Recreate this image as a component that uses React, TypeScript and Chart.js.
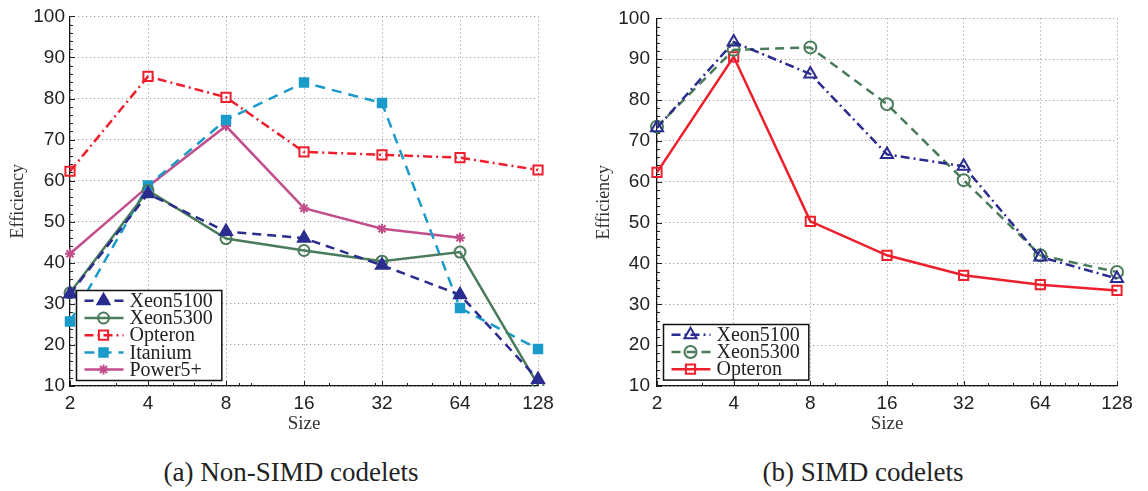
import React, { useEffect, useRef } from 'react';
import { Chart, registerables } from 'chart.js';
import { drawPoint } from 'chart.js/helpers';

Chart.register(...registerables);

// ---------- data ----------
const sizes = ['2', '4', '8', '16', '32', '64', '128'];
const sizeValues = [2, 4, 8, 16, 32, 64, 128];
const yMin = 10;
const yMax = 100;
const yStep = 10;

// (a) Non-SIMD codelets
const nsXeon5100 = [32.4, 56.8, 47.6, 46.0, 39.4, 32.2, 11.6];
const nsXeon5300 = [32.7, 57.6, 45.9, 43.0, 40.4, 42.6, 10.3];
const nsOpteron = [62.3, 85.4, 80.3, 67.0, 66.3, 65.6, 62.6];
const nsItanium = [25.7, 58.8, 74.8, 83.9, 78.9, 29.0, 19.0];
const nsPower5 = [42.2, 58.6, 73.3, 53.3, 48.3, 46.1, null];

// (b) SIMD codelets
const sXeon5100 = [73.2, 94.2, 86.4, 66.7, 63.8, 41.6, 36.3];
const sXeon5300 = [73.5, 92.3, 92.9, 79.0, 60.4, 42.0, 37.9];
const sOpteron = [62.3, 90.6, 50.3, 42.0, 37.1, 34.8, 33.4];

const captionA = '(a) Non-SIMD codelets';
const captionB = '(b) SIMD codelets';

// ---------- styles ----------
const NAVY = '#2b2c8f';
const GREEN = '#4a7b5a';
const RED = '#ee1f2d';
const CYAN = '#1b9bc9';
const MAGENTA = '#c24f8c';
const SANS = '"Liberation Sans", Arial, sans-serif';
const SERIF = '"Liberation Serif", "Times New Roman", serif';

// ---------- plugins ----------
const minorTicksPlugin = {
  id: 'minorTicks',
  beforeDatasetsDraw(chart: any) {
    const { ctx, chartArea: ca, scales } = chart;
    const x = scales.x;
    const y = scales.y;
    ctx.save();
    ctx.strokeStyle = '#222';
    ctx.lineWidth = 1;
    ctx.setLineDash([]);
    ctx.beginPath();
    for (let v = yMin; v <= yMax; v += 2) {
      const py = Math.round(y.getPixelForValue(v)) + 0.5;
      const len = v % yStep === 0 ? 5 : 3;
      ctx.moveTo(ca.left, py);
      ctx.lineTo(ca.left + len, py);
    }
    const p0 = x.getPixelForValue(0);
    const p1 = x.getPixelForValue(1);
    const per = p1 - p0;
    const minorVals = [3, 5, 6, 7, 9, 10, 20, 30, 40, 50, 60, 70, 80, 90, 100];
    minorVals.forEach((v) => {
      const px = Math.round(p0 + (Math.log2(v) - 1) * per) + 0.5;
      ctx.moveTo(px, ca.bottom);
      ctx.lineTo(px, ca.bottom - 3);
    });
    sizeValues.forEach((_, i) => {
      const px = Math.round(x.getPixelForValue(i)) + 0.5;
      ctx.moveTo(px, ca.bottom);
      ctx.lineTo(px, ca.bottom - 5);
    });
    ctx.stroke();
    ctx.restore();
  },
};

const boxLegendPlugin = {
  id: 'boxLegend',
  afterDraw(chart: any) {
    const { ctx, chartArea: ca } = chart;
    const ds = chart.data.datasets;
    ctx.save();
    ctx.font = `20px ${SERIF}`;
    const maxW = Math.max(...ds.map((d: any) => ctx.measureText(d.label).width));
    const rowH = 17.2;
    const boxW = 53 + maxW + 9;
    const boxH = ds.length * rowH + 4;
    const bx = Math.round(ca.left + 6) + 0.5;
    const by = Math.round(ca.bottom - 6 - boxH) + 0.5;
    ctx.fillStyle = '#fff';
    ctx.fillRect(bx, by, boxW, boxH);
    ctx.strokeStyle = '#111';
    ctx.lineWidth = 1.5;
    ctx.strokeRect(bx, by, boxW, boxH);
    ds.forEach((d: any, i: number) => {
      const cy = by + 10.3 + i * rowH;
      ctx.setLineDash(d.borderDash || []);
      ctx.strokeStyle = d.borderColor;
      ctx.lineWidth = d.borderWidth;
      ctx.beginPath();
      ctx.moveTo(bx + 8, cy);
      ctx.lineTo(bx + 47, cy);
      ctx.stroke();
      ctx.setLineDash([]);
      ctx.fillStyle = d.pointBackgroundColor;
      ctx.strokeStyle = d.pointBorderColor;
      ctx.lineWidth = d.pointBorderWidth;
      drawPoint(ctx, { pointStyle: d.pointStyle, radius: d.pointRadius, borderWidth: d.pointBorderWidth, rotation: 0 } as any, bx + 27, cy);
      ctx.fillStyle = '#222';
      ctx.textAlign = 'left';
      ctx.textBaseline = 'middle';
      ctx.fillText(d.label, bx + 53, cy + 1);
    });
    ctx.restore();
  },
};

function series(label: string, data: (number | null)[], color: string, dash: number[], style: string, radius: number, filled: boolean) {
  return {
    label,
    data,
    borderColor: color,
    backgroundColor: color,
    borderWidth: 2.5,
    borderDash: dash,
    pointStyle: style,
    pointRadius: radius,
    pointBorderWidth: 2,
    pointBorderColor: color,
    pointBackgroundColor: filled ? color : 'rgba(255,255,255,0)',
    tension: 0,
    fill: false,
  };
}

function makeConfig(datasets: any[], yWidth: number, rightPad: number, titlePad: number, tickPad: number) {
  return {
    type: 'line',
    data: { labels: sizes, datasets },
    plugins: [minorTicksPlugin, boxLegendPlugin],
    options: {
      animation: false,
      responsive: false,
      events: [],
      layout: { padding: { left: 0, right: rightPad, top: 14, bottom: 6 } },
      plugins: { legend: { display: false }, tooltip: { enabled: false } },
      scales: {
        x: {
          type: 'category',
          offset: false,
          grid: { color: '#8a8a8a', lineWidth: 1, drawTicks: false },
          border: { display: true, color: '#111', width: 1.2, dash: [1, 3] },
          ticks: { font: { family: SANS, size: 19 }, color: '#222', padding: 6, maxRotation: 0, autoSkip: false },
          title: { display: true, text: 'Size', font: { family: SERIF, size: 19 }, color: '#333', padding: { top: 0, bottom: 0 } },
          afterFit: (s: any) => { s.height = 49; },
        },
        y: {
          type: 'linear',
          min: yMin,
          max: yMax,
          grid: { color: '#8a8a8a', lineWidth: 1, drawTicks: false },
          border: { display: true, color: '#111', width: 1.2, dash: [1, 3] },
          ticks: { stepSize: yStep, font: { family: SANS, size: 19 }, color: '#222', padding: tickPad },
          title: { display: true, text: 'Efficiency', font: { family: SERIF, size: 18 }, color: '#333', padding: { top: titlePad, bottom: 0 } },
          afterFit: (s: any) => { s.width = yWidth; },
        },
      },
    },
  };
}

function ChartCanvas({ build, left }: { build: () => any; left: number }) {
  const ref = useRef<HTMLCanvasElement>(null);
  useEffect(() => {
    const chart = new Chart(ref.current as HTMLCanvasElement, build());
    return () => chart.destroy();
  }, []);
  return (
    <canvas
      ref={ref}
      width={574}
      height={441}
      style={{ position: 'absolute', left, top: 0, width: 574, height: 441 }}
    />
  );
}

const buildA = () =>
  makeConfig(
    [
      series('Xeon5100', nsXeon5100, NAVY, [9, 6], 'triangle', 7, true),
      series('Xeon5300', nsXeon5300, GREEN, [], 'circle', 5.5, false),
      series('Opteron', nsOpteron, RED, [9, 4, 2, 4], 'rect', 6.5, false),
      series('Itanium', nsItanium, CYAN, [10, 7], 'rect', 6, true),
      series('Power5+', nsPower5, MAGENTA, [], 'star', 5, true),
    ],
    70,
    36,
    7,
    5
  );

const buildB = () =>
  makeConfig(
    [
      series('Xeon5100', sXeon5100, NAVY, [9, 4, 2, 4], 'triangle', 7, false),
      series('Xeon5300', sXeon5300, GREEN, [9, 6], 'circle', 6, false),
      series('Opteron', sOpteron, RED, [], 'rect', 6.5, false),
    ],
    83,
    31,
    19,
    7
  );

const captionStyle: React.CSSProperties = {
  position: 'absolute',
  top: 455,
  width: 400,
  textAlign: 'center',
  fontFamily: SERIF,
  fontSize: 27,
  lineHeight: '34px',
  color: '#222',
  whiteSpace: 'nowrap',
};

export default function App() {
  return (
    <div style={{ position: 'absolute', left: 0, top: 0, width: 1148, height: 491, background: '#fff', overflow: 'hidden' }}>
      <ChartCanvas build={buildA} left={0} />
      <ChartCanvas build={buildB} left={574} />
      <div style={{ ...captionStyle, left: 291 - 200 }}>{captionA}</div>
      <div style={{ ...captionStyle, left: 863 - 200 }}>{captionB}</div>
    </div>
  );
}
